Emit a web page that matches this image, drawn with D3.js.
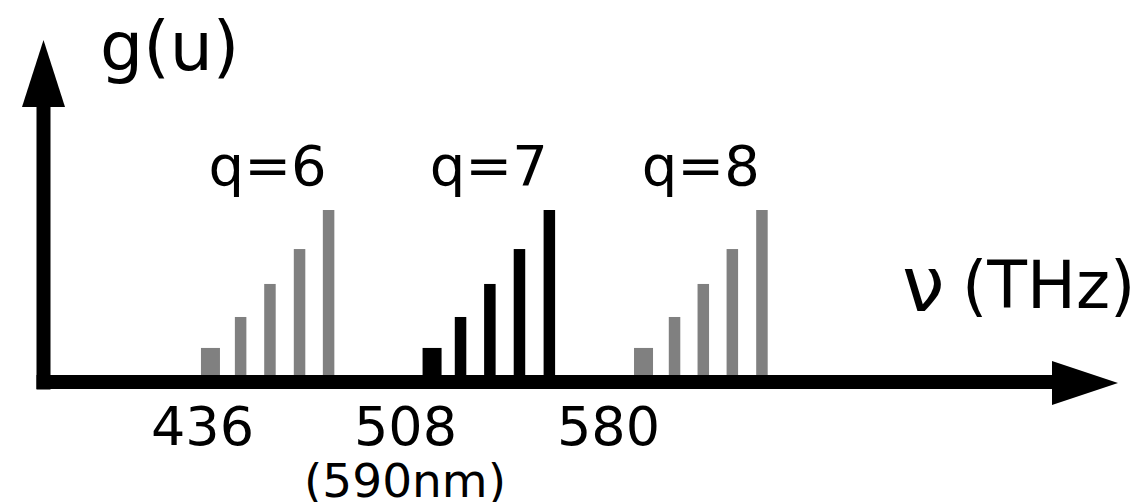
<!DOCTYPE html>
<html>
<head>
<meta charset="utf-8">
<script src="https://cdn.jsdelivr.net/npm/d3@7"></script>
<style>
  body { margin: 0; background: #fff; }
  svg { display: block; }
  text { font-family: "DejaVu Sans", sans-serif; fill: #000; }
</style>
</head>
<body>
<script>
// ---- data (frequencies in THz, g in relative units) ----
var tickValues = [436, 508, 580];
var groupLabels = ["q=6", "q=7", "q=8"];
var q6Freqs = [439.0, 449.7, 460.1, 470.6, 480.9];
var q7Freqs = [517.6, 527.7, 538.1, 548.6, 559.2];
var q8Freqs = [592.6, 603.6, 613.8, 624.1, 634.6];
var gValues = [0.198, 0.378, 0.57, 0.773, 1.0];
var highlighted = "q=7";
var wavelengthNote = "(590nm)";

var width = 1141, height = 502;

var svg = d3.select("body").append("svg")
    .attr("width", width)
    .attr("height", height);

// scales
var x = d3.scaleLinear().domain([436, 580]).range([202, 608]);
var y = d3.scaleLinear().domain([0, 1]).range([382, 210]);

var groups = [
  {label: groupLabels[0], freqs: q6Freqs},
  {label: groupLabels[1], freqs: q7Freqs},
  {label: groupLabels[2], freqs: q8Freqs}
];

// bars
groups.forEach(function(grp) {
  var color = grp.label === highlighted ? "#000" : "#808080";
  var bars = grp.freqs.map(function(f, i) { return {f: f, g: gValues[i], i: i}; });
  svg.append("g").selectAll("rect")
      .data(bars)
      .enter().append("rect")
      .attr("x", function(d) { var w = d.i === 0 ? 19 : 11.5; return x(d.f) - w / 2; })
      .attr("width", function(d) { return d.i === 0 ? 19 : 11.5; })
      .attr("y", function(d) { return y(d.g); })
      .attr("height", function(d) { return y(0) - y(d.g); })
      .attr("fill", color);

  // group label centred over the bars
  var cx = (x(grp.freqs[0]) - 9.5 + x(grp.freqs[grp.freqs.length - 1]) + 5.75) / 2;
  svg.append("text")
      .attr("x", cx)
      .attr("y", 185)
      .attr("text-anchor", "middle")
      .style("font-size", "56px")
      .text(grp.label);
});

// axes (thick arrows)
svg.append("line")
    .attr("x1", 36.5).attr("y1", y(0))
    .attr("x2", 1056).attr("y2", y(0))
    .attr("stroke", "#000").attr("stroke-width", 14);
svg.append("path")
    .attr("d", "M1052,361 L1118,383 L1052,405 Z")
    .attr("fill", "#000");

svg.append("line")
    .attr("x1", 43.5).attr("y1", 389.5)
    .attr("x2", 43.5).attr("y2", 104)
    .attr("stroke", "#000").attr("stroke-width", 14);
svg.append("path")
    .attr("d", "M22,107 L43.5,40 L65,107 Z")
    .attr("fill", "#000");

// tick labels
var xAxis = d3.axisBottom(x).tickValues(tickValues).tickSize(0).tickFormat(d3.format("d"));
var axisG = svg.append("g")
    .attr("transform", "translate(0,445)")
    .call(xAxis);
axisG.select(".domain").remove();
axisG.selectAll("text")
    .attr("y", 0)
    .attr("dy", null)
    .attr("fill", "#000")
    .style("font-family", "DejaVu Sans")
    .style("font-size", "54px");

svg.append("text")
    .attr("x", x(508))
    .attr("y", 497)
    .attr("text-anchor", "middle")
    .style("font-size", "47px")
    .text(wavelengthNote);

// axis titles
svg.append("text")
    .attr("x", 100)
    .attr("y", 70)
    .style("font-size", "68px")
    .text("g(u)");

svg.append("text")
    .attr("x", 902)
    .attr("y", 311)
    .style("font-size", "76px")
    .text("\u03bd");
svg.append("text")
    .attr("x", 962)
    .attr("y", 308)
    .style("font-size", "65px")
    .text("(THz)");
</script>
</body>
</html>
